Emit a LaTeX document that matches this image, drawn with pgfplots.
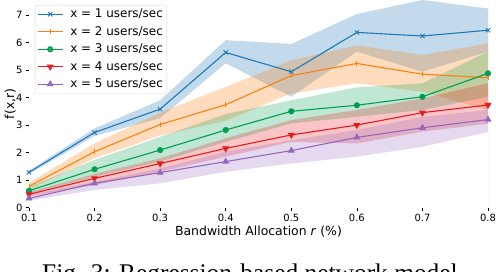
\documentclass[border=0pt]{standalone}
\usepackage{pgfplots}
\pgfplotsset{compat=1.18}
\usepgfplotslibrary{fillbetween}
\usepackage{pgfplotstable}
\usepackage{fontspec}
\setmainfont{DejaVu Sans}
\newfontfamily\capfont{Liberation Serif}

\definecolor{c1}{HTML}{1F77B4}
\definecolor{c2}{HTML}{FF7F0E}
\definecolor{c3}{HTML}{009E4E}
\definecolor{c4}{HTML}{E8191F}
\definecolor{c5}{HTML}{9467BD}

\pgfplotstableread{
r m lo hi
0.1 1.28 1.22 1.34
0.2 2.73 2.60 2.88
0.3 3.58 3.25 3.90
0.4 5.64 5.25 6.09
0.5 4.94 4.03 5.95
0.6 6.37 5.67 7.04
0.7 6.24 4.94 7.55
0.8 6.45 5.67 7.24
}\tA
\pgfplotstableread{
r m lo hi
0.1 0.77 0.65 0.90
0.2 2.03 1.79 2.33
0.3 3.02 2.62 3.45
0.4 3.74 3.15 4.39
0.5 4.80 4.15 5.35
0.6 5.24 4.52 5.90
0.7 4.85 4.21 5.55
0.8 4.72 3.55 5.97
}\tB
\pgfplotstableread{
r m lo hi
0.1 0.61 0.50 0.75
0.2 1.39 1.12 1.73
0.3 2.09 1.67 2.57
0.4 2.82 2.39 3.40
0.5 3.50 3.06 3.90
0.6 3.72 3.30 4.37
0.7 4.03 3.55 4.52
0.8 4.88 4.03 5.67
}\tC
\pgfplotstableread{
r m lo hi
0.1 0.48 0.40 0.56
0.2 1.06 0.82 1.22
0.3 1.60 1.30 1.79
0.4 2.15 1.85 2.52
0.5 2.64 2.39 3.18
0.6 3.00 2.33 3.55
0.7 3.45 2.76 3.97
0.8 3.73 3.05 4.52
}\tD
\pgfplotstableread{
r m lo hi
0.1 0.33 0.25 0.45
0.2 0.88 0.64 0.94
0.3 1.27 0.88 1.42
0.4 1.67 1.30 2.03
0.5 2.07 1.60 2.45
0.6 2.55 1.85 2.82
0.7 2.90 2.21 3.30
0.8 3.20 2.75 3.55
}\tE

\begin{document}
\begin{tikzpicture}
\begin{axis}[
  at={(0,0)}, anchor=south west,
  scale only axis, width=459bp, height=207.5bp,
  xmin=0.1, xmax=0.8, ymin=0, ymax=7.55,
  xtick={0.1,0.2,0.3,0.4,0.5,0.6,0.7,0.8},
  ytick={0,1,2,3,4,5,6,7},
  xticklabel style={/pgf/number format/.cd, fixed, fixed zerofill, precision=1},
  /pgf/number format/assume math mode=true,
  tick label style={font=\fontsize{10}{12}\selectfont},
  tick pos=left, tick align=outside, major tick length=3bp,
  tick style={black, line width=0.6pt},
  axis line style={draw=none},
  clip=true,
  xlabel={Bandwidth Allocation \textit{r} (\%)},
  ylabel={f(x,r)},
  label style={font=\fontsize{12.5}{14}\selectfont},
  xlabel style={at={(axis description cs:0.5,0)}, anchor=base, yshift=-27.5bp},
  ylabel style={at={(axis description cs:0,0.5)}, anchor=base, yshift=15bp},
  legend style={at={(axis description cs:0.013,0.976)}, anchor=north west,
    draw=black!15, rounded corners=2bp, fill=white, fill opacity=0.8, text opacity=1,
    font=\fontsize{12}{14}\selectfont, inner xsep=2bp, inner ysep=2bp, row sep=3.2bp,
    /tikz/every odd column/.append style={column sep=5bp}},
  legend cell align=left,
  legend image code/.code={\draw[mark repeat=2,mark phase=2,#1] plot coordinates {(0bp,0bp) (12.5bp,0bp) (25bp,0bp)};},
]
% bands
\addplot[name path=ahi, draw=none, forget plot] table[x=r,y=hi]{\tA};
\addplot[name path=alo, draw=none, forget plot] table[x=r,y=lo]{\tA};
\addplot[fill=c1, fill opacity=0.27, draw=none, forget plot] fill between[of=ahi and alo];
\addplot[name path=bhi, draw=none, forget plot] table[x=r,y=hi]{\tB};
\addplot[name path=blo, draw=none, forget plot] table[x=r,y=lo]{\tB};
\addplot[fill=c2, fill opacity=0.27, draw=none, forget plot] fill between[of=bhi and blo];
\addplot[name path=chi, draw=none, forget plot] table[x=r,y=hi]{\tC};
\addplot[name path=clo, draw=none, forget plot] table[x=r,y=lo]{\tC};
\addplot[fill=c3, fill opacity=0.25, draw=none, forget plot] fill between[of=chi and clo];
\addplot[name path=dhi, draw=none, forget plot] table[x=r,y=hi]{\tD};
\addplot[name path=dlo, draw=none, forget plot] table[x=r,y=lo]{\tD};
\addplot[fill=c4, fill opacity=0.25, draw=none, forget plot] fill between[of=dhi and dlo];
\addplot[name path=ehi, draw=none, forget plot] table[x=r,y=hi]{\tE};
\addplot[name path=elo, draw=none, forget plot] table[x=r,y=lo]{\tE};
\addplot[fill=c5, fill opacity=0.25, draw=none, forget plot] fill between[of=ehi and elo];
% lines
\addplot[c1, line width=1.1pt, mark=x, mark size=3bp, mark options={line width=0.9pt}] table[x=r,y=m]{\tA};
\addlegendentry{x = 1 users/sec}
\addplot[c2, line width=1.1pt, mark=|, mark size=2.5bp, mark options={line width=0.8pt}] table[x=r,y=m]{\tB};
\addlegendentry{x = 2 users/sec}
\addplot[c3, line width=1.1pt, mark=*, mark size=2.5bp] table[x=r,y=m]{\tC};
\addlegendentry{x = 3 users/sec}
\addplot[c4, line width=1.1pt, mark=triangle*, mark size=3bp, mark options={rotate=180}] table[x=r,y=m]{\tD};
\addlegendentry{x = 4 users/sec}
\addplot[c5, line width=1.1pt, mark=triangle*, mark size=3bp] table[x=r,y=m]{\tE};
\addlegendentry{x = 5 users/sec}
\draw[black!15, line width=0.8pt] (rel axis cs:1,0) -- (rel axis cs:1,1);
\end{axis}
\node[anchor=base west, inner sep=0pt, font=\capfont\fontsize{25.5}{27}\selectfont] at (13bp,-73.7bp) {Fig. 3: Regression-based network model};
\pgfresetboundingbox
\path[use as bounding box] (-29bp,-64.5bp) rectangle (467bp,207.5bp);
\end{tikzpicture}
\end{document}
